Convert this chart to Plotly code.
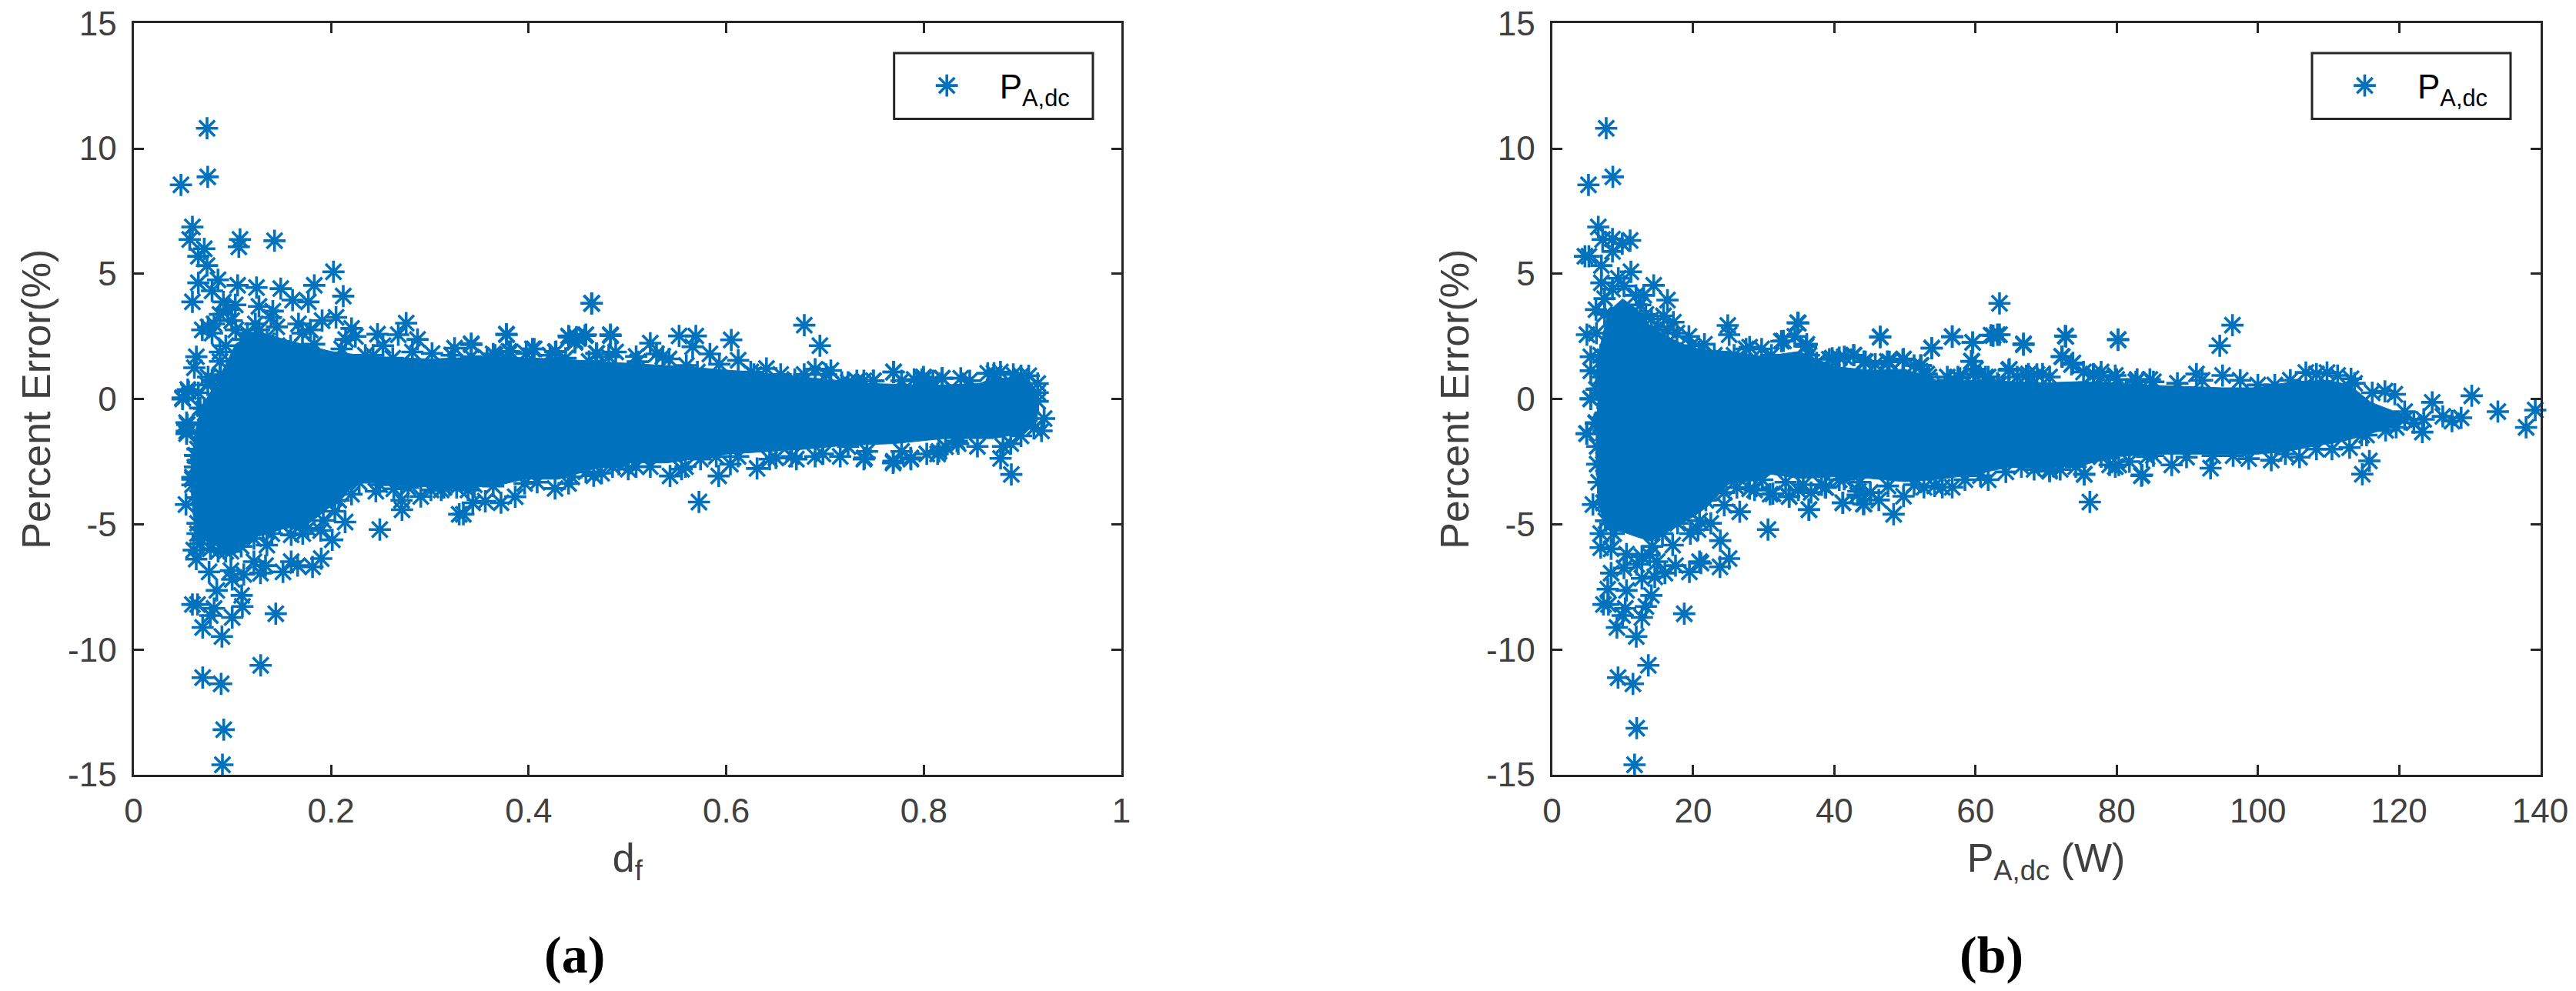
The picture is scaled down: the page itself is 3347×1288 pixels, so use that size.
import plotly.graph_objects as go

# ---------- Panel (a): percent error vs d_f ----------
a_x = [.0744,.0751,.048,.0596,.0569,.0716,.0656,.0744,.1078,.1066,.1427,.2024,.2123,.183,.149,.1054,.1245,.0855,.0656,.0795,.0596,.161,.177,.103,.127,.141,.091,.205,.167,.2207,.276,.247,.268,.2875,.2246,.3777,.325,.342,.441,.457,.447,.483,.464,.469,.4056,.427,.2525,.366,.2346,.179,.0696,.0795,.0636,.0616,.0497,.0549,.0656,.0795,.0537,.0537,.0636,.0596,
       .0913,.09,.1287,.07,.0887,.0895,.07,.144,.0999,.0777,.0816,.1102,.1095,.0596,.0648,.0843,.0765,.0986,.0999,.1116,.0635,.0609,.1219,.1336,.1285,.1513,.1596,.1661,.1812,.19,.2012,.1596,.1713,.1895,.2142,.2038,.2493,.2207,.2453,.2718,.2713,.2908,.3297,.3142,.2635,.135,.0986,.0856,.0531,.0544,.0539,.0497,.0557,.0596,.0622,.0726,.07,.131,
       .4636,.679,.6948,.3418,.3774,.4404,.4579,.4484,.4468,.4827,.4038,.38,.3641,.4277,.4684,.4881,.5088,.5231,.5523,.5692,.566,.5835,.6051,.6121,.5294,.5596,.6407,.6551,.69,.7059,.7695,.7981,.8188,.7234,.7488,.628,
       .5724,.5924,.6042,.6312,.5431,.5587,.4267,.4404,.3864,.3561,.3434,.372,.3339,.3959,.4738,.4579,.4913,.5088,.671,.6503,.69,.7154,.7393,.7689,.787,.814,.345,
       .7693,.8184,.8374,.8711,.8906,.9062,.9153,.9153,.9153,.9218,.9114,.8886,.8777,.8802,.8543,.8348,.8153,.7867,.7693,.74,.7997,.7491]
a_y = [10.81,8.87,8.55,6.87,6.37,6.0,5.7,5.33,6.37,6.08,6.32,5.08,4.11,4.54,4.41,4.54,4.45,4.76,4.64,4.32,3.88,3.95,3.88,3.76,3.7,3.51,3.88,3.26,3.0,2.82,3.03,2.59,2.57,2.38,2.5,2.57,2.03,2.17,2.47,2.53,2.32,2.53,3.82,1.82,2.0,1.88,2.13,1.75,1.75,2.76,2.76,2.63,1.69,1.25,0.0,.38,.25,.75,-.94,-1.38,-2.26,-3.2,
       -13.2,-14.6,-10.63,-11.12,-11.37,-9.48,-9.12,-8.57,-8.72,-8.64,-8.36,-8.28,-7.84,-8.2,-8.2,-7.64,-6.9,-6.85,-7.2,-7.0,-6.39,-6.03,-6.49,-6.65,-6.95,-6.9,-6.49,-6.65,-6.7,-6.37,-5.62,-5.42,-5.37,-5.25,-4.91,-4.48,-5.21,-3.8,-3.68,-4.42,-4.04,-3.89,-4.6,-3.53,-3.58,-5.83,-6.08,-6.08,-4.21,-1.02,-1.28,.05,.3,-3.12,-2.25,-5.16,-5.47,-5.21,
       3.82,2.95,2.13,2.21,2.59,2.52,2.57,2.47,2.26,2.57,2.0,1.9,1.8,1.9,1.82,1.88,1.7,2.23,2.52,2.52,2.09,1.8,2.36,1.55,1.8,1.34,1.22,.98,1.19,1.14,1.08,.78,.83,.67,.73,.98,
       -4.11,-3.07,-2.6,-2.77,-3.07,-2.7,-3.57,-3.37,-3.9,-4.08,-4.14,-4.14,-4.6,-3.37,-2.96,-2.91,-2.6,-2.7,-2.4,-2.35,-2.29,-2.29,-2.4,-2.55,-2.4,-2.19,-3.42,
       1.08,.83,.83,1.03,.98,.93,.62,.26,-.09,-.78,-1.17,-3.01,-2.37,-1.89,-1.89,-1.78,-2.09,-2.35,-2.48,-2.35,.78,.73]
# points read along the rim of the dense mass
a_rim_x = [.0875,.0815,.0994,.0755,.0954,.1233,.1392,.1451,.1909,.171,.159,.1829,.2147,.2107,.1113,.1352,.0875,.0934,.0875,.0716,.0755,.1034,.1272,.1153,
           .2425,.2624,.2823,.3022,.3221,.3419,.3579,.3817,.3976,.4215,.4374,.4612,.4732,.4811,
           .5104,.5421,.5358,.5708,.593,.6248,.6694,.6789,.7011,.717,.7393,.7775,.7902,.8092,.7322,.7997,.8465,.8647,.8776,.8984,
           .2284,.2493,.2778,.3011,.3115,.3271,.2077,.1921,.1765,.1635,.1479,.14,.1219,.109,.0933,.0778,.0674,.0648,.0648,.0648,.0596,.0622,.0648,.0726,.0674,.0752,.0882,
           .3387,.3641,.4086,.4436,.4658,.4849,.5008,.5231,.5549,.574,.5899,.6121,.6439,.6662,.6979,.7234,.7425,.7775,.803,.822,.8335,.8984,.9192,.888]
a_rim_y = [3.38,3.0,3.13,2.88,3.57,3.0,3.26,2.88,3.13,2.63,2.13,2.19,2.38,2.0,2.38,2.32,1.88,2.13,1.5,-.38,.88,2.76,2.76,2.63,
           1.75,1.63,1.88,1.82,1.75,1.69,1.63,1.88,1.82,1.75,1.63,1.5,1.38,1.69,
           1.49,1.6,1.7,1.08,1.39,1.08,.78,.98,.98,.67,.73,.73,.78,.73,.73,.88,.73,1.03,1.08,.93,
           -3.32,-3.42,-3.53,-3.63,-3.63,-3.53,-4.04,-4.85,-5.16,-5.06,-4.96,-5.37,-5.57,-5.88,-6.08,-5.98,-5.78,-5.37,-4.96,-3.94,-3.43,-2.71,-2.0,-.56,-.36,.56,.97,
           -3.63,-3.47,-3.32,-3.11,-3.06,-2.7,-2.8,-2.7,-2.8,-2.4,-2.29,-2.29,-2.4,-2.29,-2.19,-1.9,-2.09,-2.09,-2.19,-1.9,-1.68,-1.47,-1.27,-1.78]
# outline of the solid, overplotted mass of points
a_mass_x = [.0648,.06,.058,.062,.068,.087,.1034,.1245,.16,.2,.24,.3,.364,.4277,.4913,.5549,.6185,.682,.7456,.8092,.8565,.87,.905,.915,.915,.90,.87,.82,.77,.72,.68,.60,.54,.49,.46,.43,.395,.364,.332,.28,.228,.2024,.1765,.15,.1245,.0986,.0726]
a_mass_y = [-5.3,-4.55,-2.9,-1.38,-.38,.88,2.2,2.7,2.3,1.9,1.7,1.6,1.7,1.6,1.45,1.3,1.1,.85,.62,.55,.62,.83,.83,.27,-.9,-1.37,-1.58,-1.58,-1.78,-1.85,-2.0,-2.2,-2.55,-2.55,-2.85,-3.2,-3.2,-3.5,-3.5,-3.5,-3.3,-4.2,-5.0,-5.2,-5.5,-6.2,-5.6]

# ---------- Panel (b): percent error vs P_A,dc ----------
b_x = [7.68,8.62,5.17,6.56,7.18,8.57,11.07,9.96,8.57,4.67,5.23,7.0,11.18,7.0,9.4,14.41,16.36,13.0,6.23,4.95,5.5,5.5,5.5,6.3,4.95,6.23,14.1,15.8,17.2,19.4,21.6,23,24.9,25.1,27.5,32.8,34.4,34.9,36.1,42.8,49.7,46.5,52.2,53.8,56.7,59.6,59.5,62.5,63.4,66.8,64.8,63.4,61.4,56.4,
       12.0,11.7,13.65,9.36,11.47,11.94,9.2,18.74,12.74,10.0,10.38,13.3,14.08,7.29,8.0,10.56,7.9,8.38,10.2,12.74,14.56,16.0,17.5,19.47,20.9,21.1,23.8,25.1,23.84,17.1,14.9,13.83,6.9,6.9,5.8,20.7,20.9,19.6,22.5,26.6,30.6,30.9,33.6,36.4,41.2,44.1,38.8,28.0,4.9,6.2,5.47,6.4,6.4,6.4,6.6,
       34.8,46.5,56.7,53.8,59.6,62.2,63.1,66.8,72.7,80.2,59.4,64.7,72.2,73.8,76.7,67.2,70.5,61.8,57.8,32.5,36,52.3,49.8,47.8,42.7,40.7,82.9,80,
       76.2,75.4,83.5,79.8,48.4,36.4,41.2,44.2,46.3,49.8,43.4,33.6,31.3,38.7,56.7,54.2,64.3,60.7,70.5,41.4,47.6,
       72.8,80.2,96.4,94.6,72.3,73.6,76.7,91.3,95,108.3,111.3,113.2,104.6,82.7,88.6,100,118,119.4,124.7,130.3,139.3,134,138,128.8,127.5,126.2,123.5,123.3,120.8,118.1,115.4,115.8,114.8,113,110.5,105.9,101.9,98.7,93.3,89.9,87.8,83.6,80.3,79,75.4,70.5,96.5]
b_y = [10.81,8.87,8.55,6.87,6.37,6.39,6.33,6.2,5.89,5.7,5.7,5.33,5.08,4.64,4.82,4.54,3.95,4.14,3.57,2.57,1.69,1.13,0,.38,-1.38,-.94,3.2,3.32,3.07,2.5,2.19,1.75,2.94,2.57,2.0,2.32,2.5,3.03,2.19,1.75,1.57,2.47,1.34,2.03,2.48,2.26,1.5,2.53,2.57,2.17,1.19,3.82,.88,.75,
       -13.14,-14.6,-10.63,-11.12,-11.37,-9.48,-9.12,-8.57,-8.72,-8.64,-8.36,-8.28,-7.84,-8.2,-8.2,-7.64,-7.59,-6.95,-6.75,-7.16,-7.1,-6.95,-6.65,-6.9,-6.49,-6.55,-6.7,-6.37,-5.65,-5.83,-6.49,-6.24,-5.93,-5.37,-4.21,-5.21,-4.86,-5.37,-4.96,-4.5,-5.21,-3.8,-3.9,-4.42,-4.14,-4.19,-3.53,-3.58,-1.38,-.97,.02,.4,-1.89,-2.6,-3.32,
       3.05,2.49,2.5,2.03,2.26,2.55,2.57,2.21,2.52,2.38,1.51,1.15,1.7,1.44,.98,.93,.88,.88,.83,2.31,2.1,1.34,1.6,1.49,1.75,1.65,.78,.78,
       -4.11,-3.01,-3.06,-2.7,-4.6,-4.41,-4.14,-4.19,-4.03,-3.88,-3.68,-3.88,-3.78,-3.52,-3.52,-3.47,-2.91,-3.06,-2.81,-3.2,-3.47,
       2.5,2.36,2.95,2.13,1.69,1.38,1.0,1.0,.94,1.0,.94,.81,.75,.69,.63,.56,.31,.19,-.13,.13,-.44,-.5,-1.13,-.75,-.88,-.69,-.81,-1.32,-.81,-1.25,-1.44,-2.47,-3.0,-1.94,-2.0,-2.32,-2.44,-2.38,-2.76,-2.32,-2.63,-3.03,-2.63,-2.63,-3.0,-2.88,-2.26]
b_rim_x = [7.45,8.57,10.2,11.9,12.5,13.3,15,16.4,17.7,19.7,20.8,23.6,25.8,28,29.7,31.1,36.4,37.5,39.7,41.4,44.2,47.5,53.1,54.7,57.5,59.7,63.1,65.9,67.5,
           6.9,6.3,7.45,6.9,7.45,6.9,
           7.3,7.3,7.65,7.3,7.65,8.74,8.38,10.56,12,12.74,14.2,15.65,17.8,19.3,21.8,24.4,24.4,26.2,28.7,29.8,34.9,36.7,40.7,43.3,45.1,
           33.1,35.6,38.2,43.6,51.3,52.7,55.3,58.5,61.8,66.5,68.3,72,74.2,77.8,81.8,84.3,
           37.4,39.3,44.4,45.8,51.3,53.4,56,60,63.3,68.7,75.3,77.8,84.7,
           69.5,77.8,79.8,85.2,92.1,97.5,102.4,106.8,109.8,113.7,116.2,120.8,122.1,
           69,73.9,85.2,93.6,103.9,108.3,114.7,119.6]
b_rim_y = [4.01,4.39,4.51,4.14,3.76,3.38,2.88,2.76,2.63,2.13,1.88,1.5,1.75,2.07,2.0,1.75,1.75,1.44,1.63,1.69,1.5,1.5,1.0,.5,.88,1.0,.63,.88,1.0,
           1.75,2.63,3.38,.88,-.63,-1,
           -1.89,-2.6,-3.43,-4.14,-4.86,-5.37,-5.98,-6.19,-6.6,-6.29,-5.88,-5.37,-4.96,-4.45,-4.04,-4.24,-3.73,-3.53,-3.63,-3.22,-3.63,-3.73,-3.22,-3.83,-3.73,
           -3.32,-3.42,-3.42,-3.32,-3.42,-3.52,-3.52,-3.22,-3.22,-2.7,-2.81,-2.81,-2.7,-2.3,-2.5,-2.3,
           1.39,1.59,1.49,1.39,1.34,.88,.88,1.19,.57,.98,1.08,1.08,.78,
           1.0,.88,.94,.69,.75,.75,.56,1.06,1.06,.63,.25,-.5,-.94,
           -2.63,-2.38,-2.26,-2.26,-2.19,-2.0,-1.44,-1.13]
b_mass_x = [6.5,6.3,8,10,12,14,17,20,25,30,35,40,45,50,55,60,65,70,75,80,85,90,95,100,105,110,113,116,120,121,120,116,112,108,104,100,95,90,85,80,75,70,65,60,55,50,45,40,35,31,30,25,22,20,17,14,12,10,7.5,6.5,6.2]
b_mass_y = [.5,1.5,3.5,4.0,3.6,2.9,2.4,2.0,1.9,1.7,1.9,1.3,1.15,1.19,.7,.75,.7,.65,.7,.65,.55,.5,.45,.45,.7,.75,.56,-.13,-.56,-.8,-1.0,-1.38,-1.69,-1.88,-2.1,-2.2,-2.2,-2.2,-2.2,-2.3,-2.65,-2.75,-2.7,-3.0,-3.2,-3.3,-3.17,-3.1,-3.17,-3.0,-3.2,-3.4,-4.3,-4.7,-5.2,-5.67,-5.5,-5.3,-5.2,-3.94,-2.0]

y_ticks = [-15,-10,-5,0,5,10,15]
y_tick_labels = ["-15","-10","-5","0","5","10","15"]
a_ticks = [0,.2,.4,.6,.8,1]
a_tick_labels = ["0","0.2","0.4","0.6","0.8","1"]
b_ticks = [0,20,40,60,80,100,120,140]
series_name = "P<sub>A,dc</sub>"

BLUE = "#0072BD"
DARK = "#262626"
GREY = "#404040"
W, H = 3347, 1288
FONT = "Liberation Sans"

fig = go.Figure()

def add_panel(mx, my, sx, sy, xa, ya, legend):
    fig.add_trace(go.Scatter(x=mx, y=my, xaxis=xa, yaxis=ya, mode="lines", fill="toself",
                             fillcolor=BLUE, line=dict(color=BLUE, width=1), showlegend=False, hoverinfo="skip"))
    fig.add_trace(go.Scatter(x=sx, y=sy, xaxis=xa, yaxis=ya, mode="markers", name=series_name, legend=legend,
                             cliponaxis=False,
                             marker=dict(symbol="asterisk", size=24, color=BLUE, line=dict(color=BLUE, width=3.6))))

add_panel(a_mass_x, a_mass_y, a_x + a_rim_x, a_y + a_rim_y, "x", "y", "legend")
add_panel(b_mass_x, b_mass_y, b_x + b_rim_x, b_y + b_rim_y, "x2", "y2", "legend2")

common = dict(showline=True, linewidth=3, linecolor=DARK, mirror="ticks", ticks="inside", ticklen=13, tickwidth=2.5,
              tickcolor=DARK, showgrid=False, zeroline=False, automargin=False,
              tickfont=dict(family=FONT, size=44, color=GREY))
ydom = [1-1007/H, 1-30.3/H]
ytitle = dict(text="Percent Error(%)", font=dict(family=FONT, size=52, color=GREY), standoff=6)
legend_style = dict(y=1-76/H, xanchor="left", yanchor="top", borderwidth=0, bgcolor="rgba(0,0,0,0)",
                    font=dict(family=FONT, size=44, color="black"), itemwidth=127)
box = dict(type="rect", xref="paper", yref="paper", y0=1-154.5/H, y1=1-69/H, line=dict(color=DARK, width=3), layer="above")
fig.update_layout(
    width=W, height=H, margin=dict(l=0, r=0, t=0, b=0), paper_bgcolor="white", plot_bgcolor="white",
    xaxis=dict(domain=[173.5/W, 1457/W], range=[0,1], tickvals=a_ticks, ticktext=a_tick_labels, ticklabelstandoff=6,
               title=dict(text="d<sub>f</sub>", font=dict(family=FONT, size=52, color=GREY), standoff=20), **common),
    yaxis=dict(domain=ydom, range=[-15,15], tickvals=y_ticks, ticktext=y_tick_labels, ticklabelstandoff=10, title=ytitle, **common),
    xaxis2=dict(domain=[2016.5/W, 3300.5/W], range=[0,140], tickvals=b_ticks, anchor="y2", ticklabelstandoff=6,
                title=dict(text="P<sub>A,dc</sub> (W)", font=dict(family=FONT, size=52, color=GREY), standoff=20), **common),
    yaxis2=dict(domain=ydom, range=[-15,15], tickvals=y_ticks, ticktext=y_tick_labels, anchor="x2", ticklabelstandoff=10, title=ytitle, **common),
    legend=dict(x=1161.7/W, **legend_style),
    legend2=dict(x=3004/W, **legend_style),
    shapes=[dict(x0=1161.7/W, x1=1420/W, **box), dict(x0=3004/W, x1=3262/W, **box)],
    annotations=[
        dict(text="<b>(a)</b>", x=746/W, y=1-1241/H, xref="paper", yref="paper", showarrow=False,
             xanchor="center", yanchor="middle", font=dict(family="Liberation Serif", size=68, color="black")),
        dict(text="<b>(b)</b>", x=2587/W, y=1-1241/H, xref="paper", yref="paper", showarrow=False,
             xanchor="center", yanchor="middle", font=dict(family="Liberation Serif", size=68, color="black")),
    ],
)

page_fixes = """
document.body.style.margin = '0';
document.querySelectorAll('.legendpoints path').forEach(function(p){
  p.setAttribute('transform', (p.getAttribute('transform')||'') + ' scale(1.5)');
  p.style.strokeWidth = '2.4px';
});
"""
fig.write_html("out.html", post_script=page_fixes, config=dict(displayModeBar=False))
